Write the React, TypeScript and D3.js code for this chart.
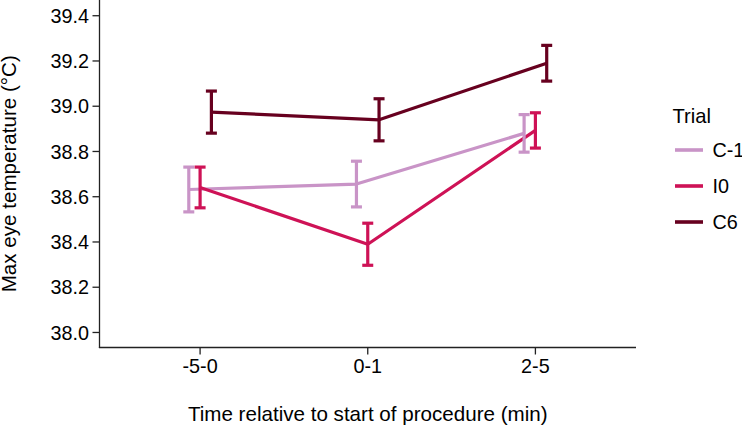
import React from "react";
import * as d3 from "d3";

const categories = ["-5-0", "0-1", "2-5"];
const series = ["C-1", "I0", "C6"];
const colors = ["#c994c7", "#ce1256", "#67001f"];

const meansC1 = [38.632, 38.656, 38.88];
const meansI0 = [38.641, 38.39, 38.893];
const meansC6 = [38.974, 38.94, 39.19];

const errC1 = [0.099, 0.101, 0.083];
const errI0 = [0.09, 0.093, 0.078];
const errC6 = [0.093, 0.093, 0.079];

const yTicks = [38.0, 38.2, 38.4, 38.6, 38.8, 39.0, 39.2, 39.4];

const W = 742;
const H = 427;
const FONT = "'Liberation Sans', Arial, Helvetica, sans-serif";

export default function App() {
  const means = [meansC1, meansI0, meansC6];
  const errs = [errC1, errI0, errC6];

  const left = 99.5;
  const right = 636;
  const bottom = 347.5;

  const x = d3.scalePoint<string>().domain(categories).range([left, right]).padding(0.6);
  const dodge = d3.scalePoint<string>().domain(series).range([-11.3, 11.3]);
  const y = d3.scaleLinear().domain([37.9336, 39.4695]).range([bottom, 0]);

  const line = d3
    .line<[number, number]>()
    .x((d) => d[0])
    .y((d) => d[1]);

  const capHalf = 5.5;
  const axisColor = "#222";

  return (
    <svg
      width={W}
      height={H}
      style={{ position: "absolute", left: 0, top: 0, background: "#fff" }}
      fontFamily={FONT}
    >
      <rect x={0} y={0} width={W} height={H} fill="#fff" />
      {/* lines */}
      {series.map((s, si) => {
        const pts: [number, number][] = categories.map((c, ci) => [
          (x(c) as number) + (dodge(s) as number),
          y(means[si][ci]),
        ]);
        return (
          <path
            key={"l" + s}
            d={line(pts) || ""}
            fill="none"
            stroke={colors[si]}
            strokeWidth={3.2}
            strokeLinejoin="round"
          />
        );
      })}
      {/* error bars */}
      {series.map((s, si) =>
        categories.map((c, ci) => {
          const cx = (x(c) as number) + (dodge(s) as number);
          const y1 = y(means[si][ci] + errs[si][ci]);
          const y2 = y(means[si][ci] - errs[si][ci]);
          return (
            <g key={"e" + s + c} stroke={colors[si]} strokeWidth={3.2} fill="none">
              <line x1={cx} x2={cx} y1={y1} y2={y2} />
              <line x1={cx - capHalf} x2={cx + capHalf} y1={y1} y2={y1} />
              <line x1={cx - capHalf} x2={cx + capHalf} y1={y2} y2={y2} />
            </g>
          );
        })
      )}
      {/* axes */}
      <line x1={left} x2={left} y1={0} y2={bottom + 0.6} stroke={axisColor} strokeWidth={1.3} />
      <line x1={left - 0.6} x2={right} y1={bottom} y2={bottom} stroke={axisColor} strokeWidth={1.3} />
      {yTicks.map((t) => (
        <g key={"yt" + t}>
          <line x1={left - 7} x2={left} y1={y(t)} y2={y(t)} stroke={axisColor} strokeWidth={1.3} />
          <text
            x={left - 10.5}
            y={y(t)}
            dy="0.36em"
            textAnchor="end"
            fontSize={19.8}
            fill="#000"
          >
            {t.toFixed(1)}
          </text>
        </g>
      ))}
      {categories.map((c) => (
        <g key={"xt" + c}>
          <line
            x1={x(c) as number}
            x2={x(c) as number}
            y1={bottom}
            y2={bottom + 7}
            stroke={axisColor}
            strokeWidth={1.3}
          />
          <text x={x(c) as number} y={373} textAnchor="middle" fontSize={19.8} fill="#000">
            {c}
          </text>
        </g>
      ))}
      {/* axis titles */}
      <text
        x={(left + right) / 2}
        y={421}
        textAnchor="middle"
        fontSize={20.6}
        fill="#000"
      >
        Time relative to start of procedure (min)
      </text>
      <text
        transform={`translate(16,${bottom / 2}) rotate(-90)`}
        textAnchor="middle"
        fontSize={20.6}
        fill="#000"
      >
        Max eye temperature (°C)
      </text>
      {/* legend */}
      <text x={672.5} y={123.3} fontSize={20.2} fill="#000">
        Trial
      </text>
      {series.map((s, si) => {
        const ly = 150 + si * 36;
        return (
          <g key={"lg" + s}>
            <line x1={675} x2={703} y1={ly} y2={ly} stroke={colors[si]} strokeWidth={3.6} />
            <text x={712.5} y={ly} dy="0.36em" fontSize={19.8} fill="#000">
              {s}
            </text>
          </g>
        );
      })}
    </svg>
  );
}
